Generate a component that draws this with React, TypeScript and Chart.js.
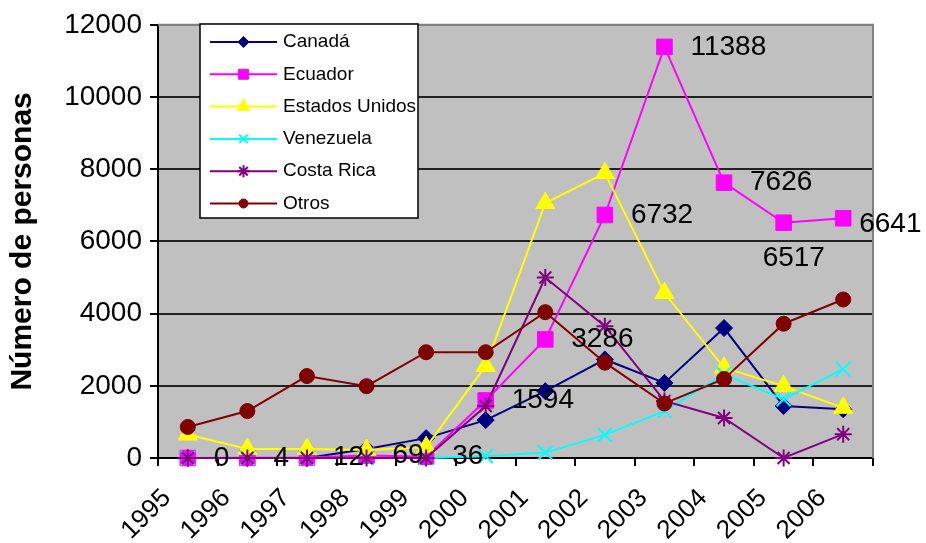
import React, { useEffect, useRef } from "react";
import { Chart, registerables } from "chart.js";
import { drawPoint } from "chart.js/helpers";

Chart.register(...registerables);

const FONT = "'Liberation Sans', Arial, sans-serif";

// ---- data ----
const years = ["1995", "1996", "1997", "1998", "1999", "2000", "2001", "2002", "2003", "2004", "2005", "2006"];
const seriesNames = ["Canadá", "Ecuador", "Estados Unidos", "Venezuela", "Costa Rica", "Otros"];
const canada = [0, 0, 0, 250, 550, 1050, 1850, 2730, 2080, 3600, 1440, 1350];
const ecuador = [0, 4, 12, 69, 36, 1594, 3286, 6732, 11388, 7626, 6517, 6641];
const estadosUnidos = [650, 250, 250, 220, 300, 2550, 7060, 7890, 4570, 2500, 1990, 1390];
const venezuela = [0, 0, 0, 0, 0, 50, 150, 640, 1300, 2320, 1630, 2460];
const costaRica = [0, 0, 0, 0, 0, 1440, 5000, 3650, 1580, 1110, 0, 660];
const otros = [860, 1300, 2270, 1990, 2930, 2930, 4040, 2640, 1510, 2190, 3720, 4390];
const yTicks = [0, 2000, 4000, 6000, 8000, 10000, 12000];
const yTitle = "Número de personas";

const seriesValues = [canada, ecuador, estadosUnidos, venezuela, costaRica, otros];

// ---- styles ----
const seriesStyles = [
  { color: "#000080", point: "rectRot", radius: 8.5, legendRadius: 5.5, bw: 1 },
  { color: "#FF00FF", point: "rect", radius: 11, legendRadius: 7, bw: 1 },
  { color: "#FFFF00", point: "triangle", radius: 11, legendRadius: 7.5, bw: 1 },
  { color: "#00FFFF", point: "crossRot", radius: 10, legendRadius: 6, bw: 2 },
  { color: "#800080", point: "star", radius: 8.5, legendRadius: 6, bw: 2 },
  { color: "#800000", point: "circle", radius: 7.5, legendRadius: 4.5, bw: 1 },
];

const bgPlugin = {
  id: "plotBg",
  beforeDraw(chart: any) {
    const { ctx, chartArea } = chart;
    ctx.save();
    ctx.fillStyle = "#C0C0C0";
    ctx.fillRect(chartArea.left, chartArea.top, chartArea.right - chartArea.left, chartArea.bottom - chartArea.top);
    ctx.restore();
  },
  beforeDatasetsDraw(chart: any) {
    const { ctx, chartArea } = chart;
    ctx.save();
    ctx.strokeStyle = "#808080";
    ctx.lineWidth = 2;
    ctx.beginPath();
    ctx.moveTo(chartArea.left, chartArea.top);
    ctx.lineTo(chartArea.right, chartArea.top);
    ctx.lineTo(chartArea.right, chartArea.bottom);
    ctx.stroke();
    ctx.restore();
  },
};

const valueLabelPlugin = {
  id: "valueLabels",
  afterDatasetsDraw(chart: any, _args: any, opts: any) {
    const { ctx } = chart;
    const meta = chart.getDatasetMeta(opts.datasetIndex);
    const values = chart.data.datasets[opts.datasetIndex].data;
    ctx.save();
    ctx.font = `${opts.size}px ${FONT}`;
    ctx.fillStyle = "#000";
    ctx.textAlign = "left";
    ctx.textBaseline = "middle";
    meta.data.forEach((pt: any, i: number) => {
      const sh = opts.shifts[i] || opts.shift;
      ctx.fillText(String(values[i]), pt.x + sh[0], pt.y + sh[1]);
    });
    ctx.restore();
  },
};

const boxLegendPlugin = {
  id: "boxLegend",
  afterDatasetsDraw(chart: any, _args: any, o: any) {
    const { ctx } = chart;
    ctx.save();
    ctx.fillStyle = "#fff";
    ctx.fillRect(o.x, o.y, o.w, o.h);
    ctx.beginPath();
    ctx.rect(o.x, o.y, o.w, o.h);
    ctx.clip();
    chart.data.datasets.forEach((ds: any, i: number) => {
      const yy = o.firstRow + i * o.rowH;
      const st = seriesStyles[i];
      ctx.strokeStyle = ds.borderColor;
      ctx.lineWidth = 2;
      ctx.beginPath();
      ctx.moveTo(o.lineX0, yy);
      ctx.lineTo(o.lineX1, yy);
      ctx.stroke();
      ctx.fillStyle = ds.pointBackgroundColor;
      ctx.strokeStyle = ds.pointBorderColor;
      ctx.lineWidth = st.bw;
      drawPoint(ctx, { pointStyle: st.point, radius: st.legendRadius, rotation: 0, borderWidth: st.bw } as any, (o.lineX0 + o.lineX1) / 2, yy);
      ctx.fillStyle = "#000";
      ctx.font = `${o.size}px ${FONT}`;
      ctx.textAlign = "left";
      ctx.textBaseline = "middle";
      ctx.fillText(ds.label, o.textX, yy);
    });
    ctx.restore();
    ctx.save();
    ctx.strokeStyle = "#000";
    ctx.lineWidth = 1.5;
    ctx.strokeRect(o.x, o.y, o.w, o.h);
    ctx.restore();
  },
};

export default function App() {
  const ref = useRef<HTMLCanvasElement>(null);
  useEffect(() => {
    if (!ref.current) return;
    const chart = new Chart(ref.current, {
      type: "line",
      data: {
        labels: years,
        datasets: seriesValues.map((data, i) => ({
          label: seriesNames[i],
          data,
          borderColor: seriesStyles[i].color,
          backgroundColor: seriesStyles[i].color,
          pointBackgroundColor: seriesStyles[i].color,
          pointBorderColor: seriesStyles[i].color,
          pointStyle: seriesStyles[i].point as any,
          pointRadius: seriesStyles[i].radius,
          pointHoverRadius: seriesStyles[i].radius,
          pointBorderWidth: seriesStyles[i].bw,
          borderWidth: 2,
          tension: 0,
          fill: false,
          order: seriesValues.length - i,
          clip: false as any,
        })),
      },
      plugins: [bgPlugin, valueLabelPlugin, boxLegendPlugin],
      options: {
        animation: false,
        responsive: false,
        devicePixelRatio: 1,
        events: [],
        layout: { padding: { top: 24, right: 53, left: 0, bottom: 0 } },
        plugins: {
          legend: { display: false },
          tooltip: { enabled: false },
          valueLabels: {
            datasetIndex: 1,
            size: 28,
            shift: [26, 0],
            shifts: { 10: [-21, 36], 11: [16, 6] },
          },
          boxLegend: {
            x: 200, y: 24, w: 218, h: 194,
            firstRow: 42, rowH: 32.3,
            lineX0: 210, lineX1: 277, textX: 283, size: 19,
          },
        } as any,
        scales: {
          x: {
            type: "category",
            offset: true,
            grid: {
              offset: true,
              drawOnChartArea: false,
              drawTicks: true,
              tickLength: 8,
              tickColor: "#000",
              lineWidth: 2,
            },
            border: { display: true, color: "#000", width: 2 },
            ticks: {
              autoSkip: false,
              minRotation: 45,
              maxRotation: 45,
              padding: 17,
              labelOffset: -21,
              color: "#000",
              font: { family: FONT, size: 26 },
            },
            afterFit(scale: any) {
              scale.height = 85;
            },
          },
          y: {
            min: 0,
            max: 12000,
            afterBuildTicks(scale: any) {
              scale.ticks = yTicks.map((v) => ({ value: v }));
            },
            grid: {
              color: (c: any) =>
                c.tick && c.tick.value === 0 ? "rgba(0,0,0,0)" : c.tick && c.tick.value === 12000 ? "#808080" : "#222",
              lineWidth: 2,
              drawTicks: true,
              tickLength: 8,
              tickColor: "#000",
            },
            border: { display: true, color: "#000", width: 2 },
            ticks: {
              padding: 8,
              color: "#000",
              font: { family: FONT, size: 28 },
              callback: (v: any) => String(v),
            },
            title: {
              display: true,
              text: yTitle,
              color: "#000",
              font: { family: FONT, size: 30, weight: "bold" },
              padding: { top: 5, bottom: 0 },
            },
            afterFit(scale: any) {
              scale.width = 158;
            },
          },
        },
      },
    });
    return () => chart.destroy();
  }, []);
  return (
    <div style={{ position: "absolute", left: 0, top: 0, width: 926, height: 543, background: "#fff" }}>
      <canvas ref={ref} width={926} height={543} />
    </div>
  );
}
